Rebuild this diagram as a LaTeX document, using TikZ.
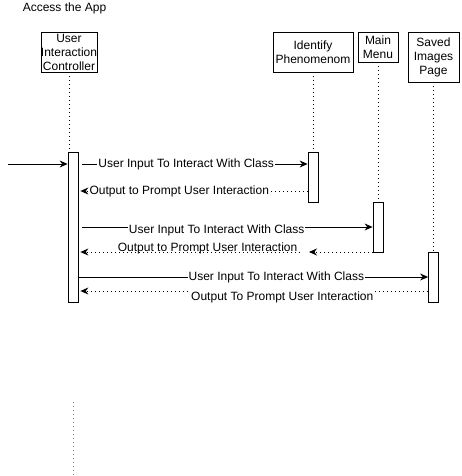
\documentclass[tikz,border=0pt]{standalone}
\usepackage{fontspec}
\setmainfont{Liberation Sans}
\usetikzlibrary{arrows.meta}

\tikzset{
  obj/.style={draw, align=center, inner sep=0pt},
  bar/.style={draw, fill=white, minimum width=10pt, inner sep=0pt},
  life/.style={dash pattern=on 1pt off 3pt},
  msg/.style={-{Stealth[length=8pt,width=7pt]}},
  ret/.style={msg, dash pattern=on 1pt off 3pt},
  lbl/.style={inner sep=1pt, fill=white}
}

\begin{document}
\begin{tikzpicture}[x=1pt, y=-1pt, thick, font=\fontsize{12}{14}\selectfont]
  \useasboundingbox (0,0) rectangle (461,476);
  \node (title) at (64.5,8) {Access the App};
  \node[obj, minimum width=56pt, minimum height=40pt] (ctl) at (69,52) {User\\Interaction\\Controller};
  \node[obj, minimum width=80pt, minimum height=40pt] (idp) at (313,52) {Identify\\Phenomenom};
  \node[obj, minimum width=40pt, minimum height=30pt] (menu) at (378,47) {Main\\Menu};
  \node[obj, minimum width=51pt, minimum height=50pt] (saved) at (433.5,57) {Saved\\Images\\Page};
  \node[bar, minimum height=150pt] (ctlA) at (73,227) {};
  \node[bar, minimum height=50pt] (idpA) at (313,177) {};
  \node[bar, minimum height=50pt] (menuA) at (378,227) {};
  \node[bar, minimum height=50pt] (savedA) at (433.5,277) {};
  \draw[life] (ctl.south) -- (ctl.south |- ctlA.north);
  \draw[life] (idp.south) -- (idpA.north);
  \draw[life] (menu.south) -- (menuA.north);
  \draw[life] (saved.south) -- (savedA.north);
  \coordinate (in) at (8,164);
  \draw[msg] (in) -- (ctlA.west |- in);
  \draw[msg, shorten <=4pt] (ctlA.east |- in) -- node[lbl, pos=0.47] {User Input To Interact With Class} (idpA.west |- in);
  \draw[ret, shorten >=2pt] (idpA.west |- 0,191) -- node[lbl, pos=0.56] {Output to Prompt User Interaction} (ctlA.east |- 0,191);
  \draw[msg, shorten <=4pt] (ctlA.east |- 0,227) -- node[lbl, pos=0.47, yshift=-3pt] {User Input To Interact With Class} (menuA.west |- 0,227);
  \coordinate (gap) at (309,252);
  \coordinate (gapR) at (300,252);
  \draw[ret] (menuA.west |- gap) -- (gap);
  \draw[ret, shorten >=2pt] (gapR) -- node[lbl, fill=none, pos=0.417, yshift=4pt] {Output to Prompt User Interaction} (ctlA.east |- gap);
  \draw[msg] (ctlA.east |- 0,277) -- node[lbl, pos=0.566] {User Input To Interact With Class} (savedA.west |- 0,277);
  \draw[ret, shorten >=2pt] (savedA.west |- 0,291) -- node[lbl, pos=0.417, yshift=-6pt] {Output To Prompt User Interaction} (ctlA.east |- 0,291);
  \coordinate (endA) at (73,402);
  \coordinate (endB) at (73,476);
  \draw[life, gray] (endA) -- (endB);
\end{tikzpicture}
\end{document}
